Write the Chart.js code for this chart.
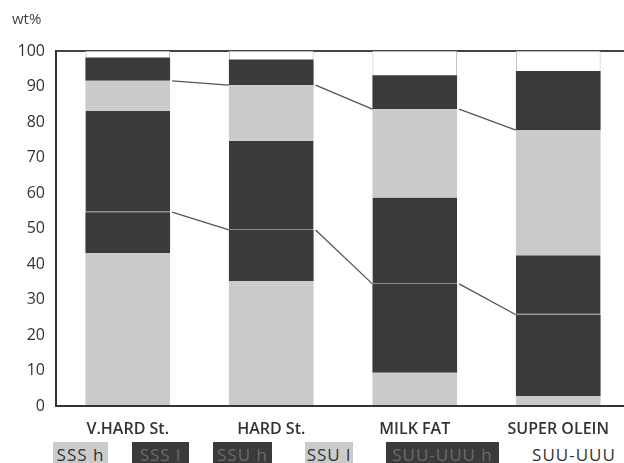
<!DOCTYPE html>
<html>
<head>
<meta charset="utf-8">
<script src="https://cdn.jsdelivr.net/npm/chart.js@4"></script>
<style>
  body { margin: 0; background: #fff; overflow: hidden; }
  #wrap { position: relative; width: 624px; height: 463px; overflow: hidden; }
  #legend div {
    position: absolute; top: 442px; height: 24px; line-height: 26px;
    font-family: "Open Sans", sans-serif; font-size: 17px; text-align: center;
    letter-spacing: 1px;
  }
</style>
</head>
<body>
<div id="wrap">
  <canvas id="chart" width="630" height="440"></canvas>
  <div id="legend"></div>
</div>
<script>
// categories and series (wt%)
const categories = ['V.HARD St.', 'HARD St.', 'MILK FAT', 'SUPER OLEIN']
const sssH = [43.0, 35.2, 9.4, 2.8]
const sssL = [11.6, 14.4, 25.0, 22.9]
const ssuH = [28.5, 25.1, 24.3, 16.8]
const ssuL = [8.5, 15.7, 24.9, 35.2]
const suuH = [6.6, 7.2, 9.6, 16.7]
const suu = [1.8, 2.4, 6.8, 5.6]
const seriesNames = ['SSS h', 'SSS l', 'SSU h', 'SSU l', 'SUU-UUU h', 'SUU-UUU']

const LIGHT = '#cbcbcb'
const DARK = '#3a3a3a'
const FONT = '"Open Sans", sans-serif'

function ds(i, data, fill, extra) {
    return Object.assign({
        label: seriesNames[i],
        data: data,
        backgroundColor: fill,
        borderWidth: 0,
        borderSkipped: false,
        barPercentage: 0.59,
        categoryPercentage: 1
    }, extra || {})
}

const datasets = [
    ds(0, sssH, LIGHT),
    ds(1, sssL, DARK),
    ds(2, ssuH, DARK, { borderColor: '#8a8a8a', borderWidth: { bottom: 1, top: 0, left: 0, right: 0 } }),
    ds(3, ssuL, LIGHT),
    ds(4, suuH, DARK),
    ds(5, suu, '#ffffff', { borderColor: '#b8b8b8', borderWidth: { top: 1, left: 1, right: 1, bottom: 0 } })
]

// lines joining the SSS and SSU totals from bar to bar, plus the "wt%" label
const linksPlugin = {
    id: 'links',
    afterDatasetsDraw(chart) {
        const ctx = chart.ctx
        ctx.save()
        ctx.strokeStyle = '#555'
        ctx.lineWidth = 1.3
        ;[1, 3].forEach(idx => {
            const bars = chart.getDatasetMeta(idx).data
            for (let i = 0; i < bars.length - 1; i++) {
                const a = bars[i], b = bars[i + 1]
                ctx.beginPath()
                ctx.moveTo(a.x + a.width / 2 + 2, a.y)
                ctx.lineTo(b.x - b.width / 2, b.y)
                ctx.stroke()
            }
        })
        ctx.fillStyle = '#444'
        ctx.font = '15px ' + FONT
        ctx.textBaseline = 'middle'
        ctx.fillText('wt%', 12, 20)
        ctx.restore()
    }
}

new Chart(document.getElementById('chart'), {
    type: 'bar',
    data: { labels: categories, datasets: datasets },
    options: {
        responsive: false,
        animation: false,
        layout: { padding: { top: 51, right: 0, left: 0, bottom: 0 } },
        plugins: { legend: { display: false }, tooltip: { enabled: false } },
        scales: {
            x: {
                stacked: true,
                grid: { display: false },
                border: { color: '#333', width: 2 },
                ticks: { color: '#333', padding: 6, font: { family: FONT, size: 16, weight: '600' } },
                afterFit: s => { s.height = 34 }
            },
            y: {
                stacked: true,
                min: 0, max: 100,
                grid: {
                    drawTicks: false,
                    lineWidth: 2,
                    color: c => c.tick && c.tick.value === 100 ? '#444' : 'transparent'
                },
                border: { color: '#333', width: 2 },
                ticks: { stepSize: 10, color: '#333', padding: 11, font: { family: FONT, size: 16 } },
                afterFit: s => { s.width = 56 }
            }
        }
    },
    plugins: [linksPlugin]
})

// legend: labelled boxes under the axis
const legendSpots = [[53, 55], [132, 57], [213, 59], [305, 48], [386, 113], [528, 92]]
const legendFills = [LIGHT, DARK, DARK, LIGHT, DARK, '#ffffff']
const legendText = ['#333', '#6a6a6a', '#6a6a6a', '#333', '#6a6a6a', '#333']
const legend = document.getElementById('legend')
seriesNames.forEach((name, i) => {
    const d = document.createElement('div')
    d.textContent = name
    d.style.left = legendSpots[i][0] + 'px'
    d.style.width = legendSpots[i][1] + 'px'
    d.style.background = legendFills[i]
    d.style.color = legendText[i]
    legend.appendChild(d)
})
</script>
</body>
</html>
